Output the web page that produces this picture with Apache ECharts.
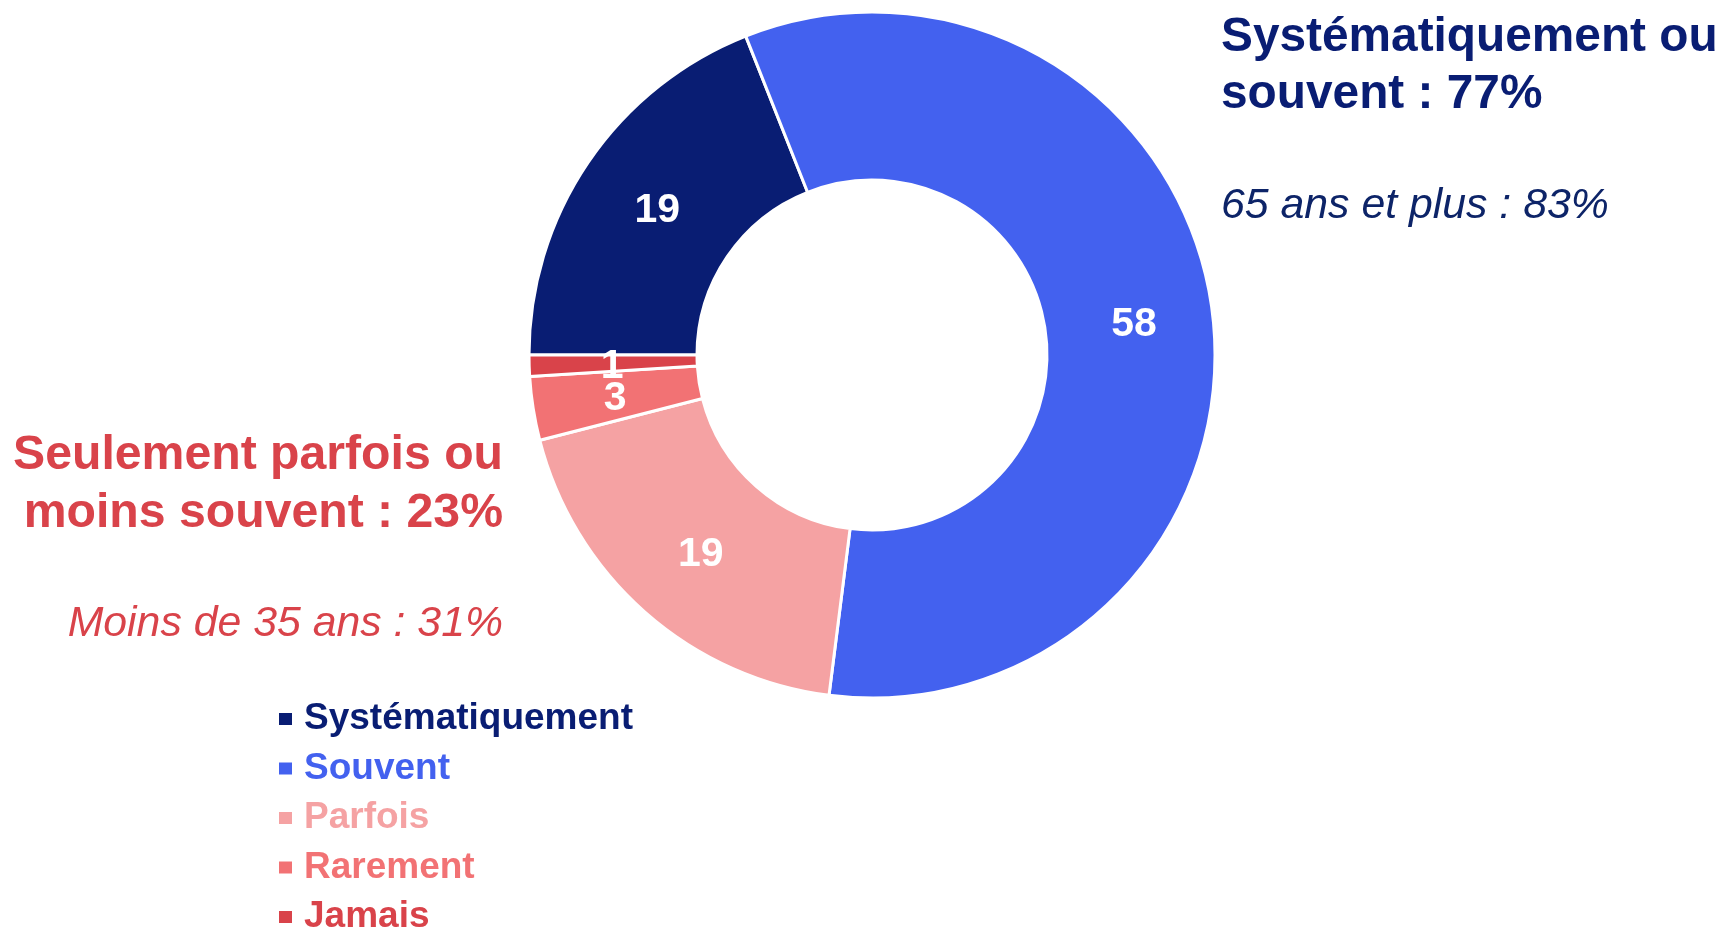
<!DOCTYPE html>
<html>
<head>
<meta charset="utf-8">
<script src="https://cdn.jsdelivr.net/npm/echarts@6/dist/echarts.min.js"></script>
<style>
  html, body { margin: 0; padding: 0; background: #fff; }
  #chart { width: 1725px; height: 931px; }
</style>
</head>
<body>
<div id="chart"></div>
<script>
const categories = ['Systématiquement', 'Souvent', 'Parfois', 'Rarement', 'Jamais']
const values = [19, 58, 19, 3, 1]
const colors = ['#091D73', '#4361EF', '#F5A2A3', '#F27274', '#D9434A']

const navy = '#091D73'
const red = '#D9434A'
const font = '"Liberation Sans", Arial, sans-serif'

const chart = echarts.init(document.getElementById('chart'))
const option = {
  backgroundColor: '#fff',
  animation: false,
  legend: {
    orient: 'vertical',
    left: 277,
    top: 698,
    height: 300,
    padding: 0,
    icon: 'rect',
    itemWidth: 15,
    itemHeight: 14,
    itemGap: 7.5,
    selectedMode: false,
    textStyle: {
      fontFamily: font,
      fontSize: 37,
      fontWeight: 'bold',
      lineHeight: 42,
      padding: [0, 0, 0, 6]
    },
    data: categories.map((c, i) => ({ name: c, textStyle: { color: colors[i] } }))
  },
  graphic: [
    {
      type: 'text',
      left: 1221,
      top: 9,
      style: {
        text: 'Systématiquement ou\nsouvent : 77%',
        font: 'bold 47.8px ' + font,
        fill: navy,
        lineHeight: 57
      }
    },
    {
      type: 'text',
      left: 1221,
      top: 185,
      style: {
        text: '65 ans et plus : 83%',
        font: 'italic 42.8px ' + font,
        fill: '#0D2468',
        lineHeight: 42
      }
    },
    {
      type: 'text',
      right: 1725 - 503,
      top: 427,
      style: {
        text: 'Seulement parfois ou\nmoins souvent : 23%',
        font: 'bold 48.2px ' + font,
        fill: red,
        textAlign: 'right',
        lineHeight: 58
      }
    },
    {
      type: 'text',
      right: 1725 - 503,
      top: 603,
      style: {
        text: 'Moins de 35 ans : 31%',
        font: 'italic 42.8px ' + font,
        fill: red,
        lineHeight: 42
      }
    }
  ],
  series: [
    {
      type: 'pie',
      center: [872, 355],
      radius: [175, 343],
      startAngle: 180,
      clockwise: true,
      avoidLabelOverlap: false,
      labelLayout: { hideOverlap: false },
      itemStyle: {
        borderColor: '#fff',
        borderWidth: 3
      },
      label: {
        show: true,
        position: 'inside',
        formatter: '{c}',
        color: '#fff',
        fontFamily: font,
        fontSize: 41,
        fontWeight: 'bold',
        offset: [2, 3]
      },
      labelLine: { show: false },
      emphasis: { disabled: true },
      data: categories.map((c, i) => ({
        name: c,
        value: values[i],
        itemStyle: { color: colors[i] }
      }))
    }
  ]
}
chart.setOption(option)
</script>
</body>
</html>
